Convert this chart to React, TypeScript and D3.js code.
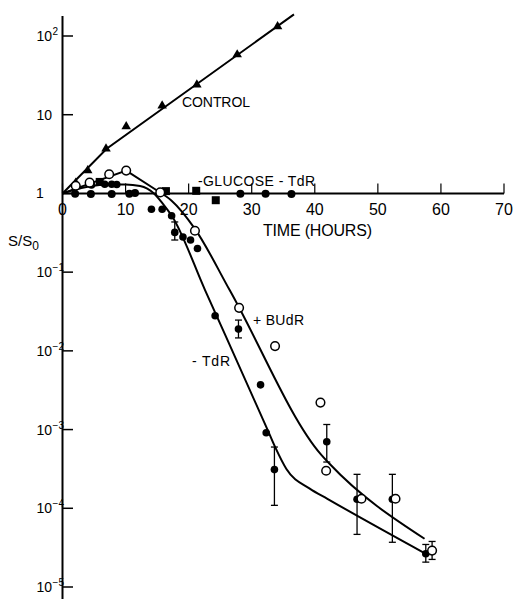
import React from 'react';
import * as d3 from 'd3';

const W = 515;
const H = 599;

const xTicks = [0, 10, 20, 30, 40, 50, 60, 70];
const yTickExps = [2, 1, 0, -1, -2, -3, -4, -5];

// CONTROL (triangles)
const controlT = [2.1, 4.0, 6.9, 10.1, 15.8, 21.3, 27.7, 34.1];
const controlV = [1.36, 1.95, 3.7, 7.1, 13, 24, 58, 132];
const controlLineT = [0, 7, 36.7];
const controlLineV = [1, 3.7, 188];

// + BUdR (open circles)
const budrT = [2.1, 4.3, 7.4, 10.1, 15.5, 21.0, 28.0, 33.7, 40.9, 41.8, 47.4, 52.8, 58.6];
const budrV = [1.25, 1.37, 1.75, 1.95, 1.03, 0.336, 0.0352, 0.0115, 0.0022, 3.0e-4, 1.32e-4, 1.32e-4, 2.9e-5];
const budrErrT = [58.6];
const budrErrLo = [2.24e-5];
const budrErrHi = [3.79e-5];
const budrRiseT = [0, 10.1, 15.3];
const budrRiseV = [1, 1.95, 1.05];
const budrFallT = [15.3, 17.3, 21, 26.5, 41, 42.3, 57.4];
const budrFallV = [1.05, 0.81, 0.355, 0.0592, 4.8e-4, 3.7e-4, 4.1e-5];

// - TdR (filled circles)
const tdrT = [4.6, 6.7, 7.8, 8.6, 14.1, 15.8, 17.3, 17.8, 19.1, 20.3, 21.4, 24.2, 27.9, 31.4, 32.3, 33.6, 41.9, 46.7, 52.3, 57.6];
const tdrV = [1.28, 1.31, 1.31, 1.3, 0.63, 0.63, 0.52, 0.32, 0.28, 0.256, 0.2, 0.0279, 0.0189, 0.0037, 9.1e-4, 3.1e-4, 7.0e-4, 1.3e-4, 1.3e-4, 2.64e-5];
const tdrErrT = [17.8, 27.9, 33.6, 41.9, 46.7, 52.3, 57.6];
const tdrErrLo = [0.256, 0.0146, 1.09e-4, 3.87e-4, 4.66e-5, 3.7e-5, 2.07e-5];
const tdrErrHi = [0.434, 0.0246, 6.0e-4, 1.16e-3, 2.7e-4, 2.7e-4, 3.47e-5];
const tdrLineT = [0, 3, 7, 10, 12.3, 14.5, 16, 17.3, 22.6, 32.5, 33.7, 35.5, 39.2, 42, 57.6];
const tdrLineLog = [0, 0.07, 0.115, 0.115, 0.095, 0.0, -0.14, -0.28, -1.228, -3.0, -3.22, -3.5, -3.75, -3.88, -4.578];

// - GLUCOSE - TdR
const gluCircT = [2.0, 4.5, 7.8, 10.6, 11.5, 28.2, 32.2, 36.3];
const gluCircV = [0.99, 0.98, 0.98, 0.99, 1.01, 0.99, 0.99, 0.98];
const gluSqT = [5.9, 16.4, 21.2, 24.3];
const gluSqV = [1.4, 1.07, 1.08, 0.82];
const gluLineT = [0, 70];
const gluLineV = [1, 1];

const FONT = '"Liberation Sans", Arial, sans-serif';

export default function App() {
  const x = d3.scaleLinear().domain([0, 70]).range([62.5, 504]);
  const y = d3.scaleLog().domain([1e-5, 100]).range([587, 36]);

  const lineLin = d3
    .line<[number, number]>()
    .x((d) => x(d[0]))
    .y((d) => y(d[1]))
    .curve(d3.curveLinear);
  const lineMono = d3
    .line<[number, number]>()
    .x((d) => x(d[0]))
    .y((d) => y(d[1]))
    .curve(d3.curveMonotoneX);

  const zip = (a: number[], b: number[]) => a.map((v, i) => [v, b[i]] as [number, number]);

  const controlPath = lineLin(zip(controlLineT, controlLineV)) || '';
  const budrRisePath = lineLin(zip(budrRiseT, budrRiseV)) || '';
  const budrFallPath = lineMono(zip(budrFallT, budrFallV)) || '';
  const tdrPath = lineMono(zip(tdrLineT, tdrLineLog.map((l) => Math.pow(10, l)))) || '';
  const gluPath = lineLin(zip(gluLineT, gluLineV)) || '';

  const tri = (cx: number, cy: number) => {
    const s = 9.5;
    const h = s * 0.866;
    return `M${cx},${cy - (2 * h) / 3}L${cx + s / 2},${cy + h / 3}L${cx - s / 2},${cy + h / 3}Z`;
  };

  const errBar = (t: number, lo: number, hi: number, key: string) => {
    const cx = x(t);
    return (
      <g key={key} stroke="#000" strokeWidth={1.3}>
        <line x1={cx} x2={cx} y1={y(hi)} y2={y(lo)} />
        <line x1={cx - 3.5} x2={cx + 3.5} y1={y(hi)} y2={y(hi)} />
        <line x1={cx - 3.5} x2={cx + 3.5} y1={y(lo)} y2={y(lo)} />
      </g>
    );
  };

  return (
    <svg
      width={W}
      height={H}
      viewBox={`0 0 ${W} ${H}`}
      style={{ position: 'absolute', left: 0, top: 0, background: '#fff' }}
      fontFamily={FONT}
    >
      <rect x={0} y={0} width={W} height={H} fill="#fff" />
      {/* Y axis */}
      <line x1={62.5} x2={62.5} y1={16} y2={599} stroke="#000" strokeWidth={2} />
      {yTickExps.map((e) => (
        <line key={'yt' + e} x1={62.5} x2={73} y1={y(Math.pow(10, e))} y2={y(Math.pow(10, e))} stroke="#000" strokeWidth={1.5} />
      ))}
      {yTickExps.map((e) => {
        const yy = y(Math.pow(10, e));
        if (e === 0) {
          return (
            <text key={'yl' + e} x={36} y={yy + 5} fontSize={14}>
              1
            </text>
          );
        }
        if (e === 1) {
          return (
            <text key={'yl' + e} x={36.5} y={yy + 5} fontSize={14}>
              10
            </text>
          );
        }
        return (
          <text key={'yl' + e} x={36.5} y={yy + 5} fontSize={14}>
            10
            <tspan dx={0.5} dy={-6} fontSize={10}>
              {e < 0 ? '\u2212' + Math.abs(e) : String(e)}
            </tspan>
          </text>
        );
      })}

      {/* X axis (at S/S0 = 1) */}
      <path d={gluPath} stroke="#000" strokeWidth={2} fill="none" />
      {xTicks.map((t) => (
        <line key={'xt' + t} x1={x(t)} x2={x(t)} y1={y(1)} y2={y(1) - 10} stroke="#000" strokeWidth={1.2} />
      ))}
      {xTicks.map((t) => (
        <text key={'xl' + t} x={x(t)} y={215} fontSize={16} textAnchor="middle">
          {t}
        </text>
      ))}
      <text x={263} y={236} fontSize={16} textLength={109} lengthAdjust="spacing">
        TIME (HOURS)
      </text>
      <text x={8} y={246} fontSize={15}>
        S/S
        <tspan dy={4} fontSize={12}>
          0
        </tspan>
      </text>

      {/* Curves */}
      <path d={controlPath} stroke="#000" strokeWidth={2} fill="none" />
      <path d={budrRisePath} stroke="#000" strokeWidth={2} fill="none" />
      <path d={budrFallPath} stroke="#000" strokeWidth={2} fill="none" />
      <path d={tdrPath} stroke="#000" strokeWidth={2} fill="none" />

      {/* Error bars */}
      {tdrErrT.map((t, i) => errBar(t, tdrErrLo[i], tdrErrHi[i], 'te' + i))}
      {budrErrT.map((t, i) => errBar(t, budrErrLo[i], budrErrHi[i], 'be' + i))}

      {/* Markers */}
      {controlT.map((t, i) => (
        <path key={'c' + i} d={tri(x(t), y(controlV[i]))} fill="#000" />
      ))}
      {gluSqT.map((t, i) => (
        <rect key={'s' + i} x={x(t) - 4} y={y(gluSqV[i]) - 4} width={8} height={8} fill="#000" />
      ))}
      {gluCircT.map((t, i) => (
        <circle key={'g' + i} cx={x(t)} cy={y(gluCircV[i])} r={4} fill="#000" />
      ))}
      {tdrT.map((t, i) => (
        <circle key={'t' + i} cx={x(t)} cy={y(tdrV[i])} r={3.8} fill="#000" />
      ))}
      {budrT.map((t, i) => (
        <circle key={'b' + i} cx={x(t)} cy={y(budrV[i])} r={4.3} fill="#fff" stroke="#000" strokeWidth={1.5} />
      ))}

      {/* Labels */}
      <text x={182} y={107} fontSize={14} textLength={68} lengthAdjust="spacing">
        CONTROL
      </text>
      <text x={198} y={186} fontSize={14} textLength={117} lengthAdjust="spacing">
        -GLUCOSE - TdR
      </text>
      <text x={253} y={324.5} fontSize={14} textLength={51} lengthAdjust="spacing">
        + BUdR
      </text>
      <text x={192} y={366} fontSize={14} textLength={38} lengthAdjust="spacing">
        - TdR
      </text>
    </svg>
  );
}
